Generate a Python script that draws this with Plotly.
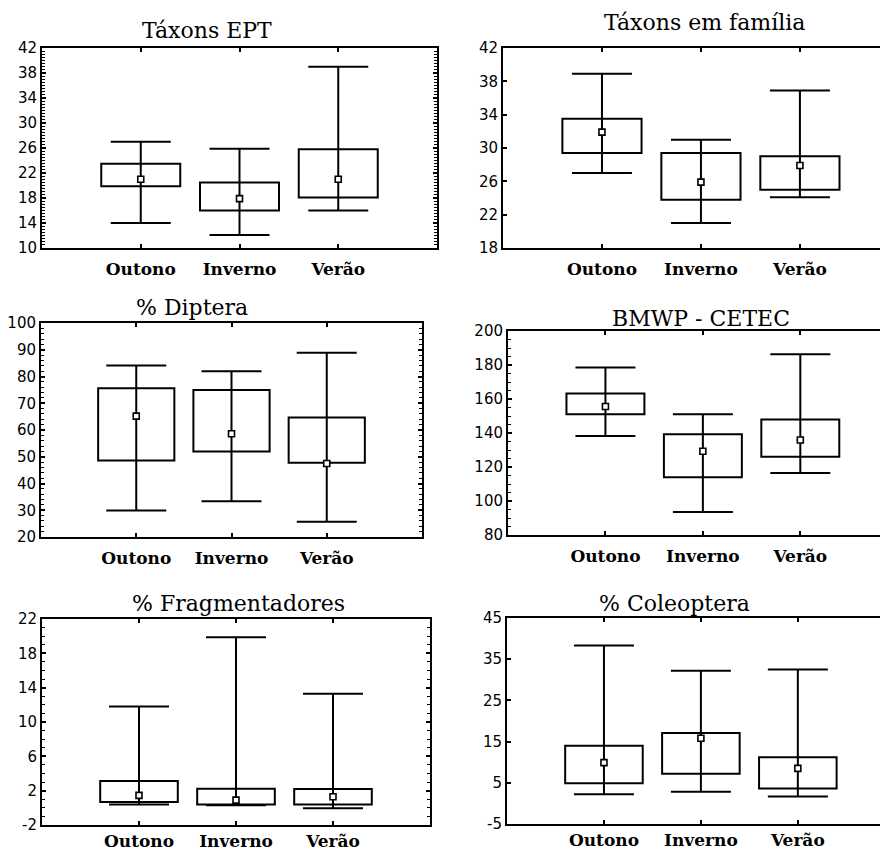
import plotly.graph_objects as go

# The page body has an 8px default margin; the figure is sized and
# positioned so that the photographed 888x853 window matches the reference.
OFF = 8
W, H = 888 - OFF, 853 - OFF

categories = ["Outono", "Inverno", "Verão"]

# Táxons EPT
ept_mean = [21.0, 17.9, 21.0]
ept_box_low = [19.9, 16.0, 18.1]
ept_box_high = [23.5, 20.5, 25.8]
ept_min = [14.0, 12.1, 16.0]
ept_max = [27.0, 25.9, 39.0]

# Táxons em família
fam_mean = [31.9, 25.9, 27.9]
fam_box_low = [29.4, 23.8, 25.0]
fam_box_high = [33.5, 29.4, 29.0]
fam_min = [27.0, 21.0, 24.1]
fam_max = [38.9, 31.0, 36.9]

# % Diptera
dip_mean = [65.2, 58.6, 47.5]
dip_box_low = [48.6, 52.0, 47.8]
dip_box_high = [75.6, 75.0, 64.7]
dip_min = [29.9, 33.4, 25.7]
dip_max = [84.1, 82.0, 88.9]

# BMWP - CETEC
bmwp_mean = [155.6, 129.3, 135.9]
bmwp_box_low = [151.1, 114.0, 126.1]
bmwp_box_high = [163.3, 139.2, 148.0]
bmwp_min = [138.2, 93.5, 116.5]
bmwp_max = [178.5, 151.1, 186.3]

# % Fragmentadores
frag_mean = [1.45, 0.9, 1.3]
frag_box_low = [0.68, 0.4, 0.4]
frag_box_high = [3.13, 2.23, 2.2]
frag_min = [0.4, 0.3, -0.06]
frag_max = [11.8, 19.86, 13.3]

# % Coleoptera
col_mean = [9.9, 15.8, 8.5]
col_box_low = [4.9, 7.2, 3.6]
col_box_high = [14.0, 17.1, 11.2]
col_min = [2.2, 2.8, 1.7]
col_max = [38.3, 32.2, 32.5]

titles = ["Táxons EPT", "Táxons em família", "% Diptera",
          "BMWP - CETEC", "% Fragmentadores", "% Coleoptera"]

panels = [
    dict(mean=ept_mean, lo=ept_box_low, hi=ept_box_high, mn=ept_min, mx=ept_max,
         px=(42, 437), py=(48, 248), yr=(10, 42), dt=4, minor=0.5, xr=(-1, 3), right=True,
         title_xy=(207, 30), standoff=5),
    dict(mean=fam_mean, lo=fam_box_low, hi=fam_box_high, mn=fam_min, mx=fam_max,
         px=(503, 888), py=(48, 248), yr=(18, 42), dt=4, minor=None, xr=(-1, 2.89), right=False,
         title_xy=(704, 23), standoff=5),
    dict(mean=dip_mean, lo=dip_box_low, hi=dip_box_high, mn=dip_min, mx=dip_max,
         px=(41, 422), py=(323, 537), yr=(20, 100), dt=10, minor=2, xr=(-1, 3), right=True,
         title_xy=(192, 307), standoff=5),
    dict(mean=bmwp_mean, lo=bmwp_box_low, hi=bmwp_box_high, mn=bmwp_min, mx=bmwp_max,
         px=(508, 888), py=(331, 535), yr=(80, 200), dt=20, minor=5, xr=(-1, 2.90), right=False,
         title_xy=(701, 318), standoff=5),
    dict(mean=frag_mean, lo=frag_box_low, hi=frag_box_high, mn=frag_min, mx=frag_max,
         px=(42, 430), py=(619, 825), yr=(-2, 22), dt=4, minor=1, xr=(-1, 3), right=True,
         title_xy=(238, 603), standoff=0),
    dict(mean=col_mean, lo=col_box_low, hi=col_box_high, mn=col_min, mx=col_max,
         px=(507, 888), py=(618, 824), yr=(-5, 45), dt=10, minor=None, xr=(-1, 2.93), right=False,
         title_xy=(674, 603), standoff=0),
]


def fx(px):
    return (px - OFF) / W


def fy(py):
    return 1 - (py - OFF) / H


fig = go.Figure()
annotations = []
for i, p in enumerate(panels):
    n = i + 1
    xa = "x" if n == 1 else f"x{n}"
    ya = "y" if n == 1 else f"y{n}"
    heights = [h - l for h, l in zip(p["hi"], p["lo"])]
    fig.add_trace(go.Bar(
        x=categories, y=heights, base=p["lo"], width=0.8,
        marker=dict(color="rgba(0,0,0,0)", line=dict(color="black", width=2)),
        xaxis=xa, yaxis=ya, showlegend=False, hoverinfo="skip"))
    fig.add_trace(go.Scatter(
        x=categories, y=p["mean"], mode="markers",
        marker=dict(symbol="square", size=6, color="white",
                    line=dict(color="black", width=1.6)),
        error_y=dict(type="data", symmetric=False,
                     array=[mx - m for mx, m in zip(p["mx"], p["mean"])],
                     arrayminus=[m - mn for m, mn in zip(p["mean"], p["mn"])],
                     color="black", thickness=2, width=30),
        xaxis=xa, yaxis=ya, showlegend=False))

    xkey = "xaxis" if n == 1 else f"xaxis{n}"
    ykey = "yaxis" if n == 1 else f"yaxis{n}"
    y0, y1 = p["yr"]
    tickvals = list(range(y0, y1 + 1, p["dt"]))
    yaxis = dict(
        domain=[max(0, fy(p["py"][1])), min(1, fy(p["py"][0]))],
        anchor=xa, range=[y0, y1], tickvals=tickvals,
        ticktext=[str(v) for v in tickvals],
        showline=True, linecolor="black", linewidth=2,
        mirror="ticks" if p["right"] else False,
        ticks="inside", ticklen=4, tickwidth=1.5, tickcolor="black",
        showgrid=False, zeroline=False, automargin=False,
        tickfont=dict(family="DejaVu Sans", size=15, color="black"),
    )
    if p["minor"]:
        yaxis["minor"] = dict(dtick=p["minor"], ticks="inside", ticklen=3,
                              tickwidth=1, tickcolor="black", showgrid=False)
    xaxis = dict(
        domain=[max(0, fx(p["px"][0])), min(1, fx(p["px"][1]))],
        anchor=ya, type="category", range=list(p["xr"]),
        showline=True, linecolor="black", linewidth=2, mirror="ticks",
        ticks="inside", ticklen=4, tickwidth=1.5, tickcolor="black",
        showgrid=False, zeroline=False, ticklabelstandoff=p["standoff"],
        automargin=False,
        tickfont=dict(family="DejaVu Serif", size=17, color="black", weight="bold"),
    )
    fig.update_layout({xkey: xaxis, ykey: yaxis})
    tx, ty = p["title_xy"]
    annotations.append(dict(
        text=titles[i], x=fx(tx), y=fy(ty), xref="paper", yref="paper",
        xanchor="center", yanchor="middle", showarrow=False,
        font=dict(family="DejaVu Serif", size=22, color="black")))

fig.update_layout(
    width=W, height=H, margin=dict(l=0, r=0, t=0, b=0, autoexpand=False),
    paper_bgcolor="white", plot_bgcolor="white",
    annotations=annotations, showlegend=False, bargap=0.2,
)

fig.write_html("out.html")
